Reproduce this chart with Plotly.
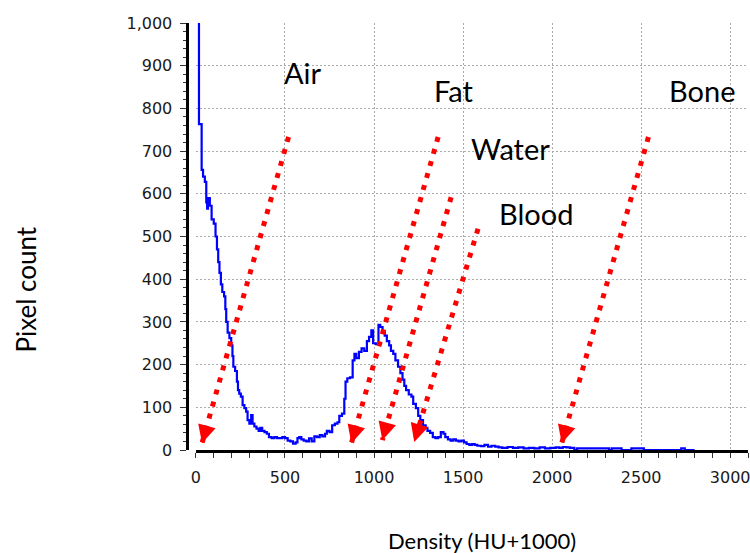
import numpy as np
import plotly.graph_objects as go

# Histogram (step) data: left bin edge (HU+1000) and pixel count
density = [0, 17, 32, 40, 50, 58, 63, 68, 78, 88, 100, 110, 118, 125, 132, 140, 148, 158, 165, 170,
           178, 188, 198, 205, 210, 220, 230, 236, 243, 252, 262, 272, 282, 290, 300, 310, 318, 328, 340, 352,
           362, 372, 385, 398, 410, 425, 440, 455, 470, 485, 500, 515, 530, 545, 560, 570, 580, 592, 605, 620,
           635, 650, 665, 680, 695, 710, 725, 735, 750, 765, 780, 795, 805, 820, 833, 840, 850, 865, 880, 890,
           900, 915, 930, 945, 960, 972, 985, 995, 1010, 1025, 1035, 1048, 1060, 1072, 1085, 1095, 1108, 1120, 1135, 1148,
           1160, 1170, 1180, 1195, 1210, 1220, 1235, 1248, 1260, 1275, 1290, 1300, 1315, 1330, 1345, 1360, 1375, 1390, 1400, 1415,
           1430, 1445, 1460, 1475, 1490, 1505, 1520, 1535, 1550, 1565, 1580, 1600, 1620, 1640, 1660, 1680, 1700, 1720, 1750, 1780,
           1810, 1840, 1870, 1900, 1930, 1960, 1990, 2020, 2040, 2060, 2080, 2100, 2125, 2140, 2320, 2335, 2390, 2445, 2515, 2725,
           2745, 2800]
pixel_count = [1200, 763, 656, 640, 628, 580, 565, 590, 572, 540, 530, 500, 470, 440, 415, 388, 370, 360, 330, 300,
               275, 262, 245, 220, 195, 185, 160, 140, 132, 125, 105, 98, 90, 70, 62, 82, 62, 55, 50, 45,
               52, 45, 42, 38, 30, 28, 30, 28, 28, 30, 28, 22, 20, 15, 18, 28, 30, 25, 22, 20,
               27, 20, 32, 30, 35, 32, 38, 45, 42, 58, 62, 65, 80, 85, 120, 160, 168, 170, 210, 225,
               215, 230, 238, 232, 255, 265, 280, 250, 248, 293, 288, 278, 268, 255, 245, 232, 225, 210, 195, 180,
               165, 150, 140, 130, 125, 108, 98, 80, 70, 58, 52, 45, 40, 30, 28, 30, 42, 38, 30, 25,
               22, 25, 22, 20, 22, 18, 14, 12, 14, 12, 10, 9, 12, 8, 10, 8, 6, 5, 7, 5,
               6, 4, 5, 4, 6, 4, 5, 6, 5, 7, 6, 5, 0, 4, 0, 4, 0, 4, 0, 4,
               0, 0]

# Labelled arrows: label, label position, arrow start (top) and arrow tip (data coords)
labels = ["Air", "Fat", "Water", "Blood", "Bone"]
label_x = [599, 1450, 1769, 1909, 2843]
label_y = [885, 843, 705, 553, 843]
arrow_top_x = [520, 1360, 1433, 1584, 2541]
arrow_top_y = [733, 733, 592, 518, 733]
arrow_tip_x = [34, 873, 1047, 1226, 2054]
arrow_tip_y = [16, 16, 23, 19, 16]

x_ticks = [0, 500, 1000, 1500, 2000, 2500, 3000]
y_ticks = [0, 100, 200, 300, 400, 500, 600, 700, 800, 900, 1000]

RED = "#ff0000"
fig = go.Figure()
fig.add_trace(go.Scatter(x=density, y=pixel_count, mode="lines",
                         line=dict(color="#0000ff", width=2.2, shape="hv"),
                         hoverinfo="skip", showlegend=False))

for i, lab in enumerate(labels):
    fig.add_shape(type="line", xref="x", yref="y",
                  x0=arrow_top_x[i], y0=arrow_top_y[i], x1=arrow_tip_x[i], y1=arrow_tip_y[i],
                  line=dict(color=RED, width=5, dash="5px,7.5px"))
    ax = arrow_tip_x[i] + (arrow_top_x[i] - arrow_tip_x[i]) * 0.05
    ay = arrow_tip_y[i] + (arrow_top_y[i] - arrow_tip_y[i]) * 0.05
    fig.add_annotation(x=arrow_tip_x[i], y=arrow_tip_y[i], ax=ax, ay=ay,
                       xref="x", yref="y", axref="x", ayref="y",
                       text="", showarrow=True, arrowhead=2, arrowsize=1.8,
                       arrowwidth=2, arrowcolor=RED)
    fig.add_annotation(x=label_x[i], y=label_y[i], xref="x", yref="y", text=lab,
                       showarrow=False, font=dict(family="Lato", size=29, color="#000000"),
                       xanchor="center", yanchor="middle")

fig.add_annotation(x=-0.2719, y=0.3747, xref="paper", yref="paper", text="Pixel count",
                   textangle=-90, showarrow=False, xanchor="center", yanchor="middle",
                   font=dict(family="Lato", size=26, color="#000000"))
fig.add_annotation(x=0.5316, y=-0.2131, xref="paper", yref="paper", text="Density (HU+1000)",
                   showarrow=False, xanchor="center", yanchor="middle",
                   font=dict(family="Lato", size=22, color="#000000"))

tick_font = dict(family="DejaVu Sans", size=16, color="#1a1a1a")
fig.update_layout(
    width=750, height=553,
    margin=dict(l=180, r=0, t=23, b=103),
    paper_bgcolor="white", plot_bgcolor="white",
    xaxis=dict(domain=[0.02807, 1], range=[0, 3100], tickvals=x_ticks, tickformat="d",
               ticklabeloverflow="allow", ticklabelstandoff=6,
               showline=True, linecolor="black", linewidth=3, mirror=False,
               ticks="outside", ticklen=5, tickwidth=1, tickcolor="#333333",
               minor=dict(dtick=100, ticks="outside", ticklen=5, tickwidth=1, tickcolor="#333333", showgrid=False),
               showgrid=True, gridcolor="#aaaaaa", gridwidth=1, griddash="2px,2px",
               zeroline=False, tickfont=tick_font, fixedrange=True),
    yaxis=dict(anchor="free", position=0.0132, range=[0, 1000], tickvals=y_ticks, tickformat=",d",
               ticklabelstandoff=5,
               showline=True, linecolor="black", linewidth=3,
               ticks="outside", ticklen=6, tickwidth=1, tickcolor="#333333",
               minor=dict(dtick=20, ticks="outside", ticklen=3, tickwidth=1, tickcolor="#333333", showgrid=False),
               showgrid=True, gridcolor="#aaaaaa", gridwidth=1, griddash="2px,2px",
               zeroline=False, tickfont=tick_font, fixedrange=True),
)

fig.write_html("out.html")
